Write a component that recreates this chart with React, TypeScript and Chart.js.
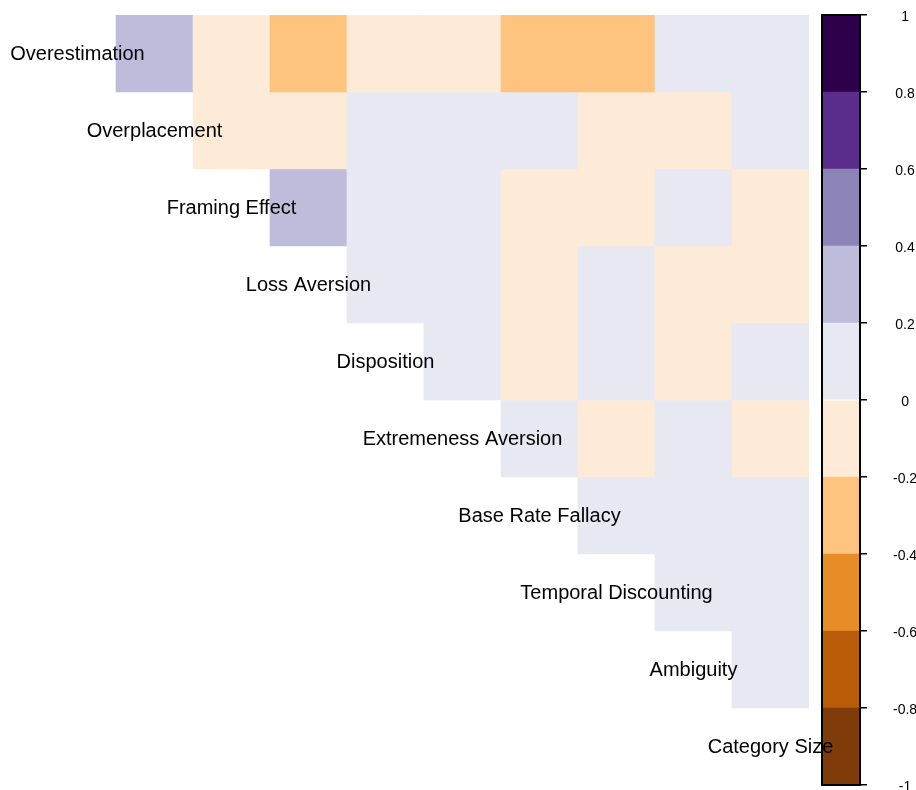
import React, { useEffect, useRef } from "react";
import { Chart, registerables } from "chart.js";

Chart.register(...registerables);

// Variables (diagonal labels, in order)
const variables = [
  "Overestimation",
  "Overplacement",
  "Framing Effect",
  "Loss Aversion",
  "Disposition",
  "Extremeness Aversion",
  "Base Rate Fallacy",
  "Temporal Discounting",
  "Ambiguity",
  "Category Size",
];

// Upper-triangle correlations: each row lists r with the variables after it
const corOverestimation = [0.28, -0.12, -0.27, -0.09, -0.15, -0.24, -0.31, 0.07, 0.04];
const corOverplacement = [-0.16, -0.08, 0.11, 0.05, 0.02, -0.06, -0.13, 0.09];
const corFraming = [0.31, 0.13, 0.06, -0.04, -0.11, 0.03, -0.07];
const corLossAversion = [0.17, 0.08, -0.05, 0.04, -0.09, -0.03];
const corDisposition = [0.12, -0.1, 0.06, -0.05, 0.02];
const corExtremeness = [0.07, -0.08, 0.05, -0.06];
const corBaseRate = [0.03, 0.09, 0.01];
const corTemporal = [0.14, 0.06];
const corAmbiguity = [0.1];

const correlationRows = [
  corOverestimation,
  corOverplacement,
  corFraming,
  corLossAversion,
  corDisposition,
  corExtremeness,
  corBaseRate,
  corTemporal,
  corAmbiguity,
];

// Colour legend
const colorbarTicks = [1, 0.8, 0.6, 0.4, 0.2, 0, -0.2, -0.4, -0.6, -0.8, -1];
const colorbarTickLabels = ["1", "0.8", "0.6", "0.4", "0.2", "0", "-0.2", "-0.4", "-0.6", "-0.8", "-1"];
// bins from -1 (bottom) up to 1 (top)
const palette = [
  "#7f3b0a",
  "#b85c08",
  "#e68d28",
  "#fec47f",
  "#fdebd7",
  "#e8e8f3",
  "#bfbbdb",
  "#8c84b6",
  "#5a2d8d",
  "#2d004b",
];

const FONT = '"Liberation Sans", Arial, Helvetica, sans-serif';

function colorFor(v: number): string {
  const idx = Math.max(0, Math.min(palette.length - 1, Math.floor((v + 1) / 0.2 + 1e-9)));
  return palette[idx];
}

export default function App() {
  const mainRef = useRef<HTMLCanvasElement | null>(null);
  const barRef = useRef<HTMLCanvasElement | null>(null);

  useEffect(() => {
    if (!mainRef.current || !barRef.current) return;
    const n = variables.length;

    const datasets = correlationRows.map((row, i) => ({
      label: variables[i],
      data: variables.map((_, j) => (j > i ? [i, i + 1] : null)) as any,
      backgroundColor: variables.map((_, j) => (j > i ? colorFor(row[j - i - 1]) : "rgba(0,0,0,0)")),
      borderWidth: 0,
    }));

    const labelPlugin = {
      id: "diagLabels",
      afterDatasetsDraw(chart: any) {
        const { ctx } = chart;
        const xs = chart.scales.x;
        const ys = chart.scales.y;
        ctx.save();
        ctx.font = `20px ${FONT}`;
        ctx.fillStyle = "#000";
        ctx.textAlign = "center";
        ctx.textBaseline = "middle";
        variables.forEach((name, i) => {
          ctx.fillText(name, xs.getPixelForValue(i), ys.getPixelForValue(i + 0.5) + 1);
        });
        ctx.restore();
      },
    };

    const main = new Chart(mainRef.current, {
      type: "bar",
      data: { labels: variables, datasets },
      options: {
        animation: false,
        responsive: false,
        events: [],
        layout: { padding: { left: 39, right: 107, top: 15, bottom: 5 } },
        datasets: { bar: { grouped: false, barPercentage: 1, categoryPercentage: 1 } } as any,
        plugins: { legend: { display: false }, tooltip: { enabled: false } },
        scales: {
          x: { type: "category", display: false, offset: true },
          y: { type: "linear", display: false, min: 0, max: n, reverse: true },
        },
      },
      plugins: [labelPlugin],
    });

    const breaks = [...colorbarTicks].reverse();
    const barDatasets = palette.map((c, b) => ({
      label: colorbarTickLabels[b],
      data: [[breaks[b], breaks[b + 1]]] as any,
      backgroundColor: c,
      borderWidth: 0,
    }));

    const framePlugin = {
      id: "colorbarFrame",
      afterDatasetsDraw(chart: any) {
        const { ctx, chartArea } = chart;
        ctx.save();
        ctx.strokeStyle = "#000";
        ctx.lineWidth = 2;
        ctx.strokeRect(chartArea.left, chartArea.top, chartArea.right - chartArea.left, chartArea.bottom - chartArea.top);
        ctx.restore();
      },
    };

    const bar = new Chart(barRef.current, {
      type: "bar",
      data: { labels: ["r"], datasets: barDatasets },
      options: {
        animation: false,
        responsive: false,
        events: [],
        layout: { padding: { left: 822, right: 0, top: 15, bottom: 5 } },
        datasets: { bar: { grouped: false, barPercentage: 1, categoryPercentage: 1 } } as any,
        plugins: { legend: { display: false }, tooltip: { enabled: false } },
        scales: {
          x: { type: "category", display: false, offset: true },
          y: {
            type: "linear",
            position: "right",
            min: -1,
            max: 1,
            afterBuildTicks(scale: any) {
              scale.ticks = colorbarTicks.map((v) => ({ value: v }));
            },
            afterFit(scale: any) {
              scale.width = 56;
              scale.paddingTop = 0;
              scale.paddingBottom = 0;
            },
            ticks: {
              color: "#000",
              font: { family: FONT, size: 14 },
              padding: 26,
              labelOffset: 2,
              crossAlign: "center",
              autoSkip: false,
              callback: (_v: any, idx: number) => colorbarTickLabels[idx],
            },
            grid: {
              display: true,
              drawOnChartArea: false,
              drawTicks: true,
              tickLength: 7,
              color: "#000",
              lineWidth: 1.5,
            },
            border: { display: false },
          } as any,
        },
      },
      plugins: [framePlugin],
    });

    return () => {
      main.destroy();
      bar.destroy();
    };
  }, []);

  return (
    <div style={{ position: "fixed", left: 0, top: 0, width: 916, height: 790, background: "#fff", overflow: "hidden" }}>
      <canvas ref={barRef} width={916} height={790} style={{ position: "absolute", left: 0, top: 0 }} />
      <canvas ref={mainRef} width={916} height={790} style={{ position: "absolute", left: 0, top: 0, pointerEvents: "none" }} />
    </div>
  );
}
